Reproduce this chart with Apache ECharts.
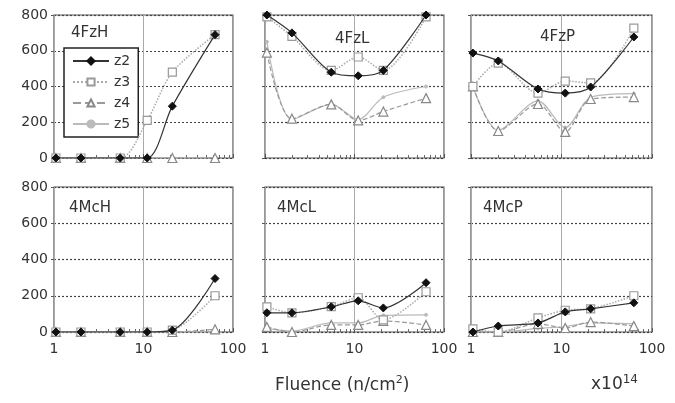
<!DOCTYPE html>
<html><head><meta charset="utf-8">
<script src="https://cdn.jsdelivr.net/npm/echarts@6/dist/echarts.min.js"></script>
<style>html,body{margin:0;padding:0;background:#fff}#c{width:675px;height:403px}</style>
</head><body><div id="c"></div>
<script>
// Data
const fluence = [1.05, 2, 5.5, 11, 21, 63];
const panelNames = ['4FzH', '4FzL', '4FzP', '4McH', '4McL', '4McP'];
const seriesNames = ['z2', 'z3', 'z4', 'z5'];
const yTicks = [0, 200, 400, 600, 800];
const xTicks = [1, 10, 100];

const FzH_z2 = [0, 0, 0, 0, 290, 690];
const FzH_z3 = [0, 0, 0, 210, 480, 690];
const FzH_z4 = [0, 0, 0, 0, 0, 0];
const FzH_z5 = [0, 0, 0, 0, 0, 0];

const FzL_z2 = [800, 700, 480, 460, 490, 800];
const FzL_z3 = [790, 680, 490, 565, 490, 790];
const FzL_z4 = [590, 220, 300, 210, 260, 335];
const FzL_z5 = [650, 215, 300, 215, 340, 400];

const FzP_z2 = [587, 543, 386, 363, 397, 677];
const FzP_z3 = [400, 531, 363, 430, 420, 727];
const FzP_z4 = [400, 151, 302, 146, 330, 341];
const FzP_z5 = [400, 155, 320, 170, 340, 360];

const McH_z2 = [0, 0, 0, 0, 10, 295];
const McH_z3 = [0, 0, 0, 0, 10, 200];
const McH_z4 = [0, 0, 0, 0, 0, 15];
const McH_z5 = [0, 0, 0, 0, 0, 0];

const McL_z2 = [106, 106, 139, 172, 133, 272];
const McL_z3 = [139, 106, 140, 189, 67, 222];
const McL_z4 = [28, 0, 39, 39, 61, 39];
const McL_z5 = [20, 5, 50, 50, 92, 95];

const McP_z2 = [0, 33, 50, 111, 128, 161];
const McP_z3 = [17, 0, 78, 120, 128, 200];
const McP_z4 = [0, 0, 45, 22, 55, 33];
const McP_z5 = [0, 0, 20, 30, 50, 45];

const panelData = [
  [FzH_z2, FzH_z3, FzH_z4, FzH_z5],
  [FzL_z2, FzL_z3, FzL_z4, FzL_z5],
  [FzP_z2, FzP_z3, FzP_z4, FzP_z5],
  [McH_z2, McH_z3, McH_z4, McH_z5],
  [McL_z2, McL_z3, McL_z4, McL_z5],
  [McP_z2, McP_z3, McP_z4, McP_z5]
];

// Layout
const lefts = [54, 265, 471];
const widths = [179, 179, 181];
const tops = [15, 187];
const heights = [143, 145];

const styles = [
  {line: {color: '#333', width: 1.2, type: 'solid'}, symbol: 'diamond', size: 8, item: {color: '#111', borderColor: '#111', borderWidth: 1}},
  {line: {color: '#aaa', width: 1.5, type: 'dotted'}, symbol: 'rect', size: 8, item: {color: '#fff', borderColor: '#999', borderWidth: 1.2}},
  {line: {color: '#999', width: 1.2, type: 'dashed'}, symbol: 'triangle', size: 9, item: {color: '#fff', borderColor: '#888', borderWidth: 1.2}},
  {line: {color: '#bbb', width: 1.2, type: 'solid'}, symbol: 'circle', size: 3, item: {color: '#bbb', borderColor: '#bbb', borderWidth: 1}}
];

const grids = [], xAxes = [], yAxes = [], series = [], titles = [];
const titlePos = [
  {left: 66, top: 21}, {left: 330, top: 27}, {left: 535, top: 25},
  {left: 64, top: 196}, {left: 272, top: 196}, {left: 478, top: 196}
];
for (let p = 0; p < 6; p++) {
  const r = Math.floor(p / 3), c = p % 3;
  grids.push({left: lefts[c], top: tops[r], width: widths[c], height: heights[r],
    show: true, borderColor: '#555', borderWidth: 1.2, backgroundColor: '#fff'});
  xAxes.push({type: 'log', logBase: 10, gridIndex: p, min: xTicks[0], max: xTicks[2],
    axisLine: {show: false},
    axisTick: {show: true, inside: true, length: 4, lineStyle: {color: '#555'}},
    minorTick: {show: true, splitNumber: 9, length: 3, lineStyle: {color: '#666'}},
    axisLabel: {show: r === 1, fontFamily: 'DejaVu Sans', fontSize: 14, color: '#333', margin: 10},
    splitLine: {show: true, lineStyle: {color: '#aaa', width: 1}}
  });
  yAxes.push({type: 'value', gridIndex: p, min: yTicks[0], max: yTicks[4], interval: 200,
    axisLine: {show: false},
    axisTick: {show: true, length: 3, lineStyle: {color: '#555'}},
    axisLabel: {show: c === 0, fontFamily: 'DejaVu Sans', fontSize: 14, color: '#333', margin: 6},
    splitLine: {show: true, lineStyle: {color: '#444', type: [2, 2], width: 1.2}}
  });
  for (let s = 0; s < 4; s++) {
    const st = styles[s];
    series.push({
      name: seriesNames[s], type: 'line', xAxisIndex: p, yAxisIndex: p,
      data: fluence.map((x, i) => [x, panelData[p][s][i]]),
      smooth: 0.3, symbol: st.symbol, symbolSize: st.size, showAllSymbol: true,
      lineStyle: st.line, itemStyle: st.item, z: 10 - s,
      emphasis: {disabled: true}
    });
  }
  titles.push({text: panelNames[p], left: titlePos[p].left, top: titlePos[p].top,
    textStyle: {fontFamily: 'DejaVu Sans', fontSize: 15, fontWeight: 'normal', color: '#333'}});
}
titles.push({text: 'Fluence (n/cm{sup|2})', left: 270, top: 370,
  textStyle: {fontFamily: 'DejaVu Sans', fontSize: 17, fontWeight: 'normal', color: '#333',
    rich: {sup: {fontSize: 11, verticalAlign: 'top', padding: [0, 0, 10, 0], color: '#333', fontFamily: 'DejaVu Sans'}}}});
titles.push({text: 'x10{sup|14}', left: 586, top: 369,
  textStyle: {fontFamily: 'DejaVu Sans', fontSize: 17, fontWeight: 'normal', color: '#333',
    rich: {sup: {fontSize: 12, verticalAlign: 'top', padding: [0, 0, 10, 0], color: '#333', fontFamily: 'DejaVu Sans'}}}});

const chart = echarts.init(document.getElementById('c'), null, {renderer: 'canvas'});
chart.setOption({
  animation: false,
  backgroundColor: '#fff',
  title: titles,
  grid: grids, xAxis: xAxes, yAxis: yAxes, series: series,
  legend: {
    data: seriesNames, orient: 'vertical', left: 64, top: 48,
    backgroundColor: '#fff', borderColor: '#222', borderWidth: 1.5,
    padding: [6, 8, 6, 8], itemGap: 7, itemWidth: 36, itemHeight: 9,
    textStyle: {fontFamily: 'DejaVu Sans', fontSize: 14, color: '#333'}
  }
});
</script></body></html>
